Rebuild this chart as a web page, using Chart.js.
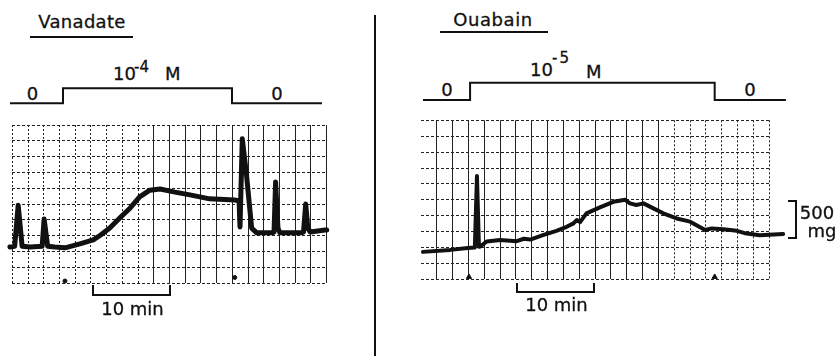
<!DOCTYPE html>
<html>
<head>
<meta charset="utf-8">
<script src="https://cdn.jsdelivr.net/npm/chart.js@4"></script>
<style>
  body { margin: 0; background: #fff; }
  #fig { position: relative; width: 837px; height: 356px; overflow: hidden; background: #fff;
         font-family: "DejaVu Sans", sans-serif; color: #111; }
  #fig canvas { position: absolute; }
  .t { position: absolute; font-size: 18px; line-height: 18px; white-space: nowrap;
       -webkit-text-stroke: 0.3px #111; }
  .sup { font-size: 15px; line-height: 15px; }
  .c { transform: translateX(-50%); }
  .rule { position: absolute; background: #111; }
  .br { position: absolute; border: 2px solid #111; box-sizing: border-box; }
</style>
</head>
<body>
<div id="fig">
  <!-- Vanadate panel -->
  <div class="t c" style="left:82px;top:13px;letter-spacing:0.3px">Vanadate</div>
  <div class="rule" style="left:30px;top:36px;width:103px;height:2px"></div>
  <div class="t c" style="left:32.5px;top:85px">0</div>
  <div class="t" style="left:113px;top:65px">10</div>
  <div class="t sup" style="left:134px;top:60px">-4</div>
  <div class="t" style="left:165px;top:65px">M</div>
  <div class="t c" style="left:277px;top:85px">0</div>
  <canvas id="vanStep" width="375" height="45" style="left:0;top:70px"></canvas>
  <canvas id="vanTrace" width="375" height="200" style="left:0;top:110px"></canvas>
  <div class="br" style="left:92px;top:285px;width:79px;height:11px;border-top:none"></div>
  <div class="t c" style="left:132.5px;top:300px">10 min</div>

  <div class="rule" style="left:374px;top:15px;width:2px;height:341px"></div>

  <!-- Ouabain panel -->
  <div class="t c" style="left:493px;top:11px;letter-spacing:0.6px">Ouabain</div>
  <div class="rule" style="left:440px;top:31px;width:108px;height:2px"></div>
  <div class="t c" style="left:447px;top:81px">0</div>
  <div class="t" style="left:530px;top:61px">10</div>
  <div class="t sup" style="left:552px;top:51px;letter-spacing:2px">-5</div>
  <div class="t" style="left:586px;top:63px">M</div>
  <div class="t c" style="left:750px;top:81px">0</div>
  <canvas id="ouaStep" width="437" height="45" style="left:400px;top:65px"></canvas>
  <canvas id="ouaTrace" width="437" height="200" style="left:400px;top:110px"></canvas>
  <div class="br" style="left:516px;top:283px;width:79px;height:10px;border-top:none"></div>
  <div class="t c" style="left:556.5px;top:296px">10 min</div>
  <div class="br" style="left:788px;top:200px;width:9px;height:39px;border-left:none"></div>
  <div class="t c" style="left:817px;top:204px">500</div>
  <div class="t c" style="left:822px;top:222px">mg</div>
</div>

<script>
// --- DATA: time in min, tension in mg ---

// Vanadate 10^-4 M
const vanTime = [-0.3, 0.3, 0.75, 1.25, 2.3, 3.8, 4.05, 4.5, 5.4, 6.7, 8.6, 10.3, 11.2, 12.4,
  13.7, 15.0, 16.2, 17.5, 18.8, 20.7, 22.6, 25.1, 28.3, 28.85, 28.97, 29.26, 29.8, 30.45,
  31.1, 33.0, 33.3, 33.5, 33.8, 34.05, 36.8, 37.05, 37.33, 37.6, 37.9, 39.8, 40.0];
const vanTension = [455, 465, 985, 465, 455, 465, 810, 465, 455, 445, 495, 545, 605, 695,
  825, 950, 1090, 1175, 1190, 1150, 1115, 1065, 1050, 1040, 710, 1825, 1365, 695,
  635, 635, 645, 1280, 695, 635, 635, 645, 1000, 695, 645, 670, 670];
const vanStepTime = [-0.3, 6.45, 27.95, 39.4];
const vanStepConc = [0, 1, 0, 0];
const vanMarkTime = [6.7, 28.3];
const vanMarkTension = [25, 70];

// Ouabain 10^-5 M
const ouaTime = [0.25, 3.7, 5.9, 6.8, 7.07, 7.32, 7.45, 8.3, 10.0, 12.1, 13.0, 13.8, 15.4,
  17.1, 18.4, 19.2, 19.7, 20.1, 20.9, 22.6, 24.3, 25.8, 26.4, 27.2, 28.1, 29.3, 30.6,
  32.3, 34.0, 35.9, 36.7, 38.2, 39.9, 40.9, 42.8, 45.75];
const ouaTension = [345, 370, 395, 400, 1300, 410, 410, 475, 495, 480, 510, 500, 555,
  610, 660, 700, 745, 720, 830, 905, 975, 1000, 955, 935, 955, 895, 830,
  765, 725, 620, 640, 630, 610, 580, 555, 570];
const ouaStepTime = [0.25, 6.2, 37.1, 46.1];
const ouaStepConc = [0, 1, 0, 0];
const ouaMarkTime = [6.06, 37.1];
const ouaMarkTension = [30, 30];

// chart paper: 2 min per division, 200 mg per division
const MIN_PER_DIV = 2;
const MG_PER_DIV = 200;

const INK = '#111';
const GRID = '#222';

function pts(xs, ys) {
  return xs.map((x, i) => ({ x, y: ys[i] }));
}

function gridX(tMax, visible, dash) {
  return {
    type: 'linear', position: 'bottom', min: 0, max: tMax,
    ticks: { display: false, stepSize: MIN_PER_DIV, autoSkip: false },
    grid: { drawTicks: false, lineWidth: 1, color: c => visible(c.tick.value) ? GRID : 'rgba(0,0,0,0)' },
    border: { display: false, dash }
  };
}

function traceChart(id, o) {
  new Chart(document.getElementById(id), {
    type: 'line',
    data: {
      datasets: [
        {
          data: pts(o.time, o.tension), xAxisID: 'x', yAxisID: 'y',
          borderColor: INK, borderWidth: o.width, pointRadius: 0, tension: 0,
          borderJoinStyle: 'round', borderCapStyle: 'round', clip: false
        },
        {
          data: pts(o.markTime, o.markTension), xAxisID: 'x', yAxisID: 'y', showLine: false,
          pointStyle: o.markStyle, pointRadius: o.markStyle === 'triangle' ? 3 : 2,
          backgroundColor: INK, borderColor: INK, clip: false
        }
      ]
    },
    options: {
      responsive: false, animation: false, events: [],
      layout: { padding: o.pad },
      plugins: { legend: { display: false }, tooltip: { enabled: false } },
      scales: {
        x: gridX(o.tMax, o.dotted, [2, 2]),
        x2: gridX(o.tMax, o.solid, []),
        y: {
          min: 0, max: 2000,
          ticks: { display: false, stepSize: MG_PER_DIV },
          grid: { drawTicks: false, lineWidth: 1, color: GRID },
          border: { display: false, dash: [3, 2] }
        }
      }
    }
  });
}

function stepChart(id, time, conc, tMax, pad) {
  new Chart(document.getElementById(id), {
    type: 'line',
    data: {
      datasets: [{
        data: pts(time, conc), stepped: true, borderColor: INK, borderWidth: 2,
        pointRadius: 0, clip: false
      }]
    },
    options: {
      responsive: false, animation: false, events: [],
      layout: { padding: pad },
      plugins: { legend: { display: false }, tooltip: { enabled: false } },
      scales: {
        x: { type: 'linear', min: 0, max: tMax, display: false },
        y: { min: 0, max: 1, display: false }
      }
    }
  });
}

stepChart('vanStep', vanStepTime, vanStepConc, 40,
  { left: 12.3, right: 48.3, top: 18.3, bottom: 11.7 });
traceChart('vanTrace', {
  time: vanTime, tension: vanTension, markTime: vanMarkTime, markTension: vanMarkTension,
  markStyle: 'circle', width: 5, tMax: 40,
  pad: { left: 12.3, right: 48.3, top: 15, bottom: 27 },
  dotted: v => v <= 16, solid: v => v >= 18
});

stepChart('ouaStep', ouaStepTime, ouaStepConc, 44,
  { left: 21, right: 67.7, top: 17.7, bottom: 10 });
traceChart('ouaTrace', {
  time: ouaTime, tension: ouaTension, markTime: ouaMarkTime, markTension: ouaMarkTension,
  markStyle: 'triangle', width: 4, tMax: 44,
  pad: { left: 21, right: 67.7, top: 10.3, bottom: 30.7 },
  dotted: v => v >= 32, solid: v => v > 0 && v <= 30
});
</script>
</body>
</html>
